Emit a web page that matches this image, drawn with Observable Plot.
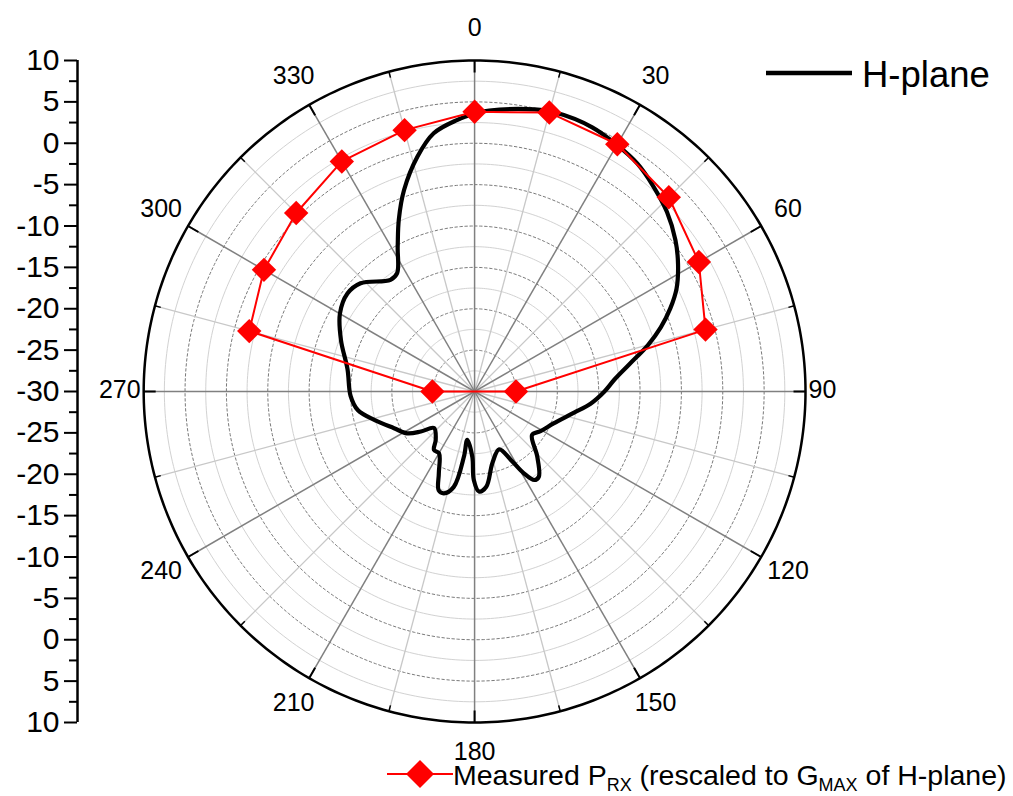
<!DOCTYPE html>
<html><head><meta charset="utf-8">
<script src="https://cdn.jsdelivr.net/npm/d3@7"></script>
<script src="https://cdn.jsdelivr.net/npm/@observablehq/plot@0.6"></script>
<style>
body{margin:0;background:#fff;font-family:"Liberation Sans",Arial,sans-serif;}
#wrap{position:relative;width:1013px;height:796px;overflow:hidden;background:#fff;}
#wrap svg.overlay{position:absolute;left:0;top:0;pointer-events:none;}
</style></head><body>
<div id="wrap"></div>
<script>
// radial scale (dB)
const rMin = -30, rMax = 10;
// angular tick labels
const angleTicks = [0, 30, 60, 90, 120, 150, 180, 210, 240, 270, 300, 330];
// radial axis tick values (dB, mirrored about the centre)
const radialMajor = [10, 5, 0, -5, -10, -15, -20, -25, -30];

// H-plane pattern (angle in degrees, gain in dB)
const hAngle = [0, 3, 12, 16, 24, 30, 35.5, 41, 47, 53, 58, 63, 67, 71, 75, 80, 85, 90, 96, 102, 112, 121, 127, 136, 143, 146, 149, 152, 157, 166, 173, 177.5, 180.5, 182, 188.6, 189.3, 192.3, 196.8, 200, 203.6, 210, 214.8, 218.8, 228, 233.3, 238.2, 245.5, 254.2, 261, 268, 280, 291, 300, 307.6, 313.5, 323, 326.8, 332, 336.2, 340.7, 346.3, 351, 356.4];
const hGain  = [3.6, 4.0, 4.85, 5.1, 4.95, 4.4, 3.85, 2.9, 1.8, 0.4, -1.0, -2.6, -4.3, -6.2, -8.3, -11.0, -13.0, -14.3, -15.9, -17.7, -19.7, -20.7, -21.3, -19.1, -17.1, -17.1, -18.5, -20.6, -22.4, -21.1, -18.4, -17.9, -19.3, -22.1, -24.1, -22.0, -18.2, -17.15, -17.3, -19.2, -21.4, -21.4, -22.5, -23.4, -21.9, -20.4, -19.3, -17.4, -15.7, -15.0, -14.4, -12.7, -11.2, -10.6, -11.0, -13.1, -12.9, -10.2, -7.3, -4.2, -0.8, 1.6, 2.9];

// Measured P_RX (rescaled), path order
const mAngle = [0, 15, 30, 45, 60, 75, 90, 270, 285, 300, 315, 330, 345];
const mGain  = [3.8, 4.9, 4.5, 3.2, 1.3, -1.1, -25.0, -24.9, -1.8, -0.6, 0.5, 2.1, 2.7];

const deg = Math.PI / 180;
const px = (a, g) => (g - rMin) * Math.sin(a * deg);
const py = (a, g) => (g - rMin) * Math.cos(a * deg);

const hData = hAngle.map((a, i) => ({x: px(a, hGain[i]), y: py(a, hGain[i])}));
hData.push(hData[0]);
const mData = mAngle.map((a, i) => ({x: px(a, mGain[i]), y: py(a, mGain[i])}));
const mLine = mData.concat([mData[0]]);

const circle = v => d3.range(0, 361, 1).map(a => ({v, x: px(a, v), y: py(a, v)}));
const dashedLevels = d3.range(rMin + 5, rMax, 5);          // -25 … 5
const lightLevels = d3.range(rMin + 2.5, rMax, 5);         // -27.5 … 7.5
const dashedCircles = dashedLevels.flatMap(circle);
const lightCircles = lightLevels.flatMap(circle);
const outerCircle = circle(rMax);

const R = rMax - rMin;
const unit = 8.275; // px per dB
const spokesDark = d3.range(0, 360, 30).map(a => ({x2: px(a, rMax), y2: py(a, rMax)}));
const spokesLight = d3.range(15, 360, 30).map(a => ({x2: px(a, rMax), y2: py(a, rMax)}));
const tickLenMajor = 12 / unit, tickLenMinor = 6 / unit;
const ticksMajor = d3.range(0, 360, 30).map(a => ({x1: px(a, rMax), y1: py(a, rMax), x2: px(a, rMax - tickLenMajor), y2: py(a, rMax - tickLenMajor)}));
const ticksMinor = d3.range(15, 360, 30).map(a => ({x1: px(a, rMax), y1: py(a, rMax), x2: px(a, rMax - tickLenMinor), y2: py(a, rMax - tickLenMinor)}));

// angle labels: centred ones sit further out, side ones (90/270) are edge-anchored
const labMid = 362 / unit, labSide = 334 / unit;
const anchorOf = a => a === 90 ? "start" : a === 270 ? "end" : "middle";
const angleLabels = angleTicks.map(a => {
  const rr = anchorOf(a) === "middle" ? labMid : labSide;
  return {a, anchor: anchorOf(a), x: rr * Math.sin(a * deg), y: rr * Math.cos(a * deg)};
});

const xMin = -48; // left radial axis position
const yTicks = radialMajor.map(v => v - rMin).concat(radialMajor.slice(0, -1).map(v => -(v - rMin)));
const yMinor = d3.range(-R + 2.5, R, 5);

const labelMark = anchor => Plot.text(angleLabels.filter(d => d.anchor === anchor),
  {x: "x", y: "y", text: d => String(d.a), fontSize: 25, fill: "black", textAnchor: anchor, dy: -2});

const chart = Plot.plot({
  width: 1013, height: 796,
  marginLeft: 77, marginRight: 208, marginTop: 60, marginBottom: 74,
  x: {domain: [xMin, R], axis: null},
  y: {domain: [-R, R], axis: null},
  style: {fontFamily: "'Liberation Sans', Arial, sans-serif", background: "white", color: "black"},
  marks: [
    Plot.line(lightCircles, {x: "x", y: "y", z: "v", stroke: "#d2d2d2", strokeWidth: 1}),
    Plot.line(dashedCircles, {x: "x", y: "y", z: "v", stroke: "#7a7a7a", strokeWidth: 1, strokeDasharray: "2.5,2.5"}),
    Plot.link(spokesLight, {x1: 0, y1: 0, x2: "x2", y2: "y2", stroke: "#c8c8c8", strokeWidth: 1.3}),
    Plot.link(spokesDark, {x1: 0, y1: 0, x2: "x2", y2: "y2", stroke: "#808080", strokeWidth: 1.5}),
    Plot.line(outerCircle, {x: "x", y: "y", stroke: "black", strokeWidth: 2.5}),
    Plot.link(ticksMajor, {x1: "x1", y1: "y1", x2: "x2", y2: "y2", stroke: "black", strokeWidth: 2}),
    Plot.link(ticksMinor, {x1: "x1", y1: "y1", x2: "x2", y2: "y2", stroke: "black", strokeWidth: 1.5}),
    Plot.line(hData, {x: "x", y: "y", stroke: "black", strokeWidth: 4.2, curve: "catmull-rom", strokeLinejoin: "round"}),
    Plot.line(mLine, {x: "x", y: "y", stroke: "#ff0000", strokeWidth: 2}),
    Plot.dot(mData, {x: "x", y: "y", symbol: "diamond2", r: 11, fill: "#ff0000", stroke: "none"}),
    labelMark("middle"), labelMark("start"), labelMark("end"),
    Plot.ruleX([xMin], {y1: -R, y2: R, stroke: "black", strokeWidth: 2.5}),
    Plot.axisY(yTicks, {anchor: "left", tickSize: 13, tickPadding: 5, strokeWidth: 2, fontSize: 30, fill: "black", label: null, tickFormat: d => String(Math.abs(d) + rMin)}),
    Plot.axisY(yMinor, {anchor: "left", tickSize: 8, strokeWidth: 2, label: null, tickFormat: () => ""})
  ]
});
const wrap = document.getElementById("wrap");
wrap.appendChild(chart);

// legends (overlay)
const ov = d3.select(wrap).append("svg").attr("class", "overlay").attr("width", 1013).attr("height", 796)
  .style("font-family", "'Liberation Sans', Arial, sans-serif");
ov.append("line").attr("x1", 766).attr("x2", 852).attr("y1", 73).attr("y2", 73).attr("stroke", "black").attr("stroke-width", 4.5);
ov.append("text").attr("x", 862).attr("y", 86.5).attr("font-size", 36.5).text("H-plane");
ov.append("line").attr("x1", 387).attr("x2", 453).attr("y1", 774).attr("y2", 774).attr("stroke", "#ff0000").attr("stroke-width", 2);
ov.append("path").attr("d", "M420,760L434,774L420,788L406,774Z").attr("fill", "#ff0000");
const t = ov.append("text").attr("x", 453).attr("y", 785).attr("font-size", 28.5);
t.append("tspan").text("Measured P");
t.append("tspan").attr("font-size", 18).attr("dy", 6).text("RX");
t.append("tspan").attr("dy", -6).text(" (rescaled to G");
t.append("tspan").attr("font-size", 18).attr("dy", 6).text("MAX");
t.append("tspan").attr("dy", -6).text(" of H-plane)");
</script>
</body></html>
